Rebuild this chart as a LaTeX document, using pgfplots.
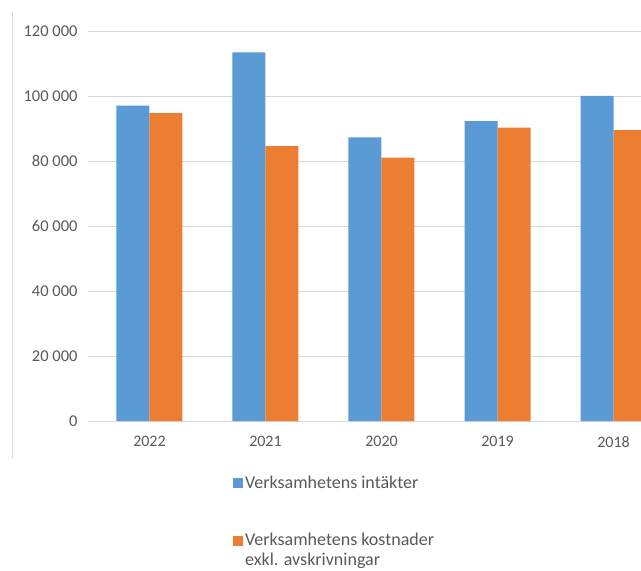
\documentclass[border=0pt]{standalone}
\usepackage{pgfplots}
\pgfplotsset{compat=1.18}
\usepackage{fontspec}
\setmainfont{Carlito}
\definecolor{barblue}{HTML}{5B9BD5}
\definecolor{barorange}{HTML}{ED7D31}
\definecolor{gridgray}{HTML}{D9D9D9}
\definecolor{labelgray}{HTML}{595959}
\begin{document}
\begin{tikzpicture}
\begin{axis}[
  scale only axis,
  width=553bp, height=390bp,
  xmin=-0.53, xmax=4.237,
  ymin=0, ymax=120000,
  ybar=0pt, bar width=33bp,
  axis line style={draw=none},
  major tick length=0pt,
  ymajorgrids, grid style={gridgray, line width=0.8pt},
  scaled y ticks=false,
  ytick={0,20000,40000,60000,80000,100000,120000},
  yticklabels={0,20 000,40 000,60 000,80 000,100 000,120 000},
  yticklabel style={font=\fontsize{16.5bp}{18bp}\selectfont, text=labelgray, anchor=east, xshift=-7bp},
  xtick={0,1,2,3,4},
  xticklabels={2022,2021,2020,2019,2018},
  xticklabel style={font=\fontsize{16bp}{18bp}\selectfont, text=labelgray, anchor=north, yshift=-12bp},
  legend style={draw=none, at={(axis description cs:0.262,-0.135)}, anchor=north west,
    font=\fontsize{18bp}{20bp}\selectfont, text=labelgray, row sep=38bp, inner sep=0pt,
    cells={anchor=base west}},
  legend image code/.code={\fill[#1] (0bp,0bp) rectangle (10bp,10bp);},
]
\addplot[fill=barblue, draw=none] coordinates {(0,97000) (1,113400) (2,87300) (3,92300) (4,100000)};
\addlegendentry{Verksamhetens intäkter}
\addplot[fill=barorange, draw=none] coordinates {(0,94700) (1,84600) (2,81000) (3,90300) (4,89500)};
\addlegendentry{\begin{tabular}[t]{@{}l@{}}Verksamhetens kostnader\\exkl. avskrivningar\end{tabular}}
\end{axis}
\draw[gridgray, line width=0.8pt] (-76bp,409bp) -- (-76bp,-37bp);
\pgfresetboundingbox
\path[use as bounding box] (-88bp,-150bp) rectangle (553bp,421bp);
\end{tikzpicture}
\end{document}
